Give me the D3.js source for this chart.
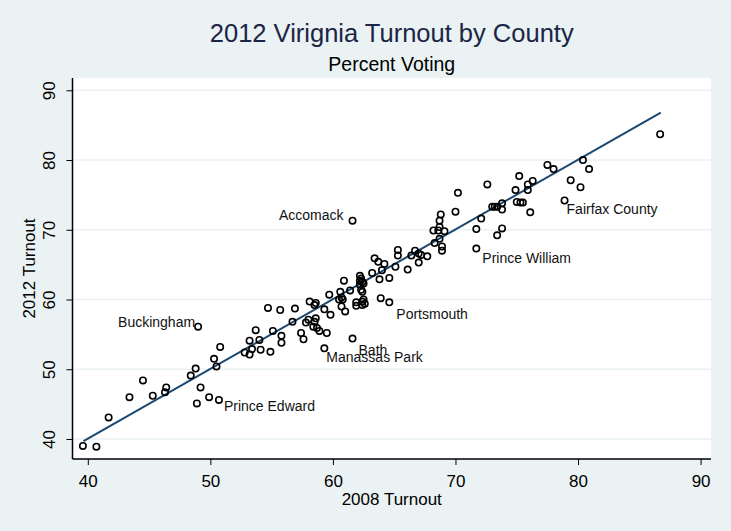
<!DOCTYPE html>
<html>
<head>
<meta charset="utf-8">
<script src="https://cdn.jsdelivr.net/npm/d3@7"></script>
<style>
  html, body { margin: 0; padding: 0; background: #eaf2f3; }
  svg { display: block; font-family: "Liberation Sans", Arial, sans-serif; }
</style>
</head>
<body>
<svg id="chart" width="731" height="531"></svg>
<script>
// ---- Data ----
const turnout2008 = [
  39.6, 40.7, 41.7, 43.4, 44.5, 45.3, 46.3, 46.4, 48.4, 48.8, 49.2, 48.9, 49.9,
  50.3, 50.5, 50.8, 52.8, 53.2, 53.4, 53.2, 54.0, 54.1, 54.9, 55.8, 55.8, 57.4,
  57.6, 59.5, 53.7, 54.7, 55.7, 55.1, 56.7, 56.9, 57.8, 58.1, 58.0, 58.5, 58.4,
  58.6, 58.7, 58.6, 58.5, 58.9, 59.3, 59.8, 59.7, 60.6, 60.7, 60.8, 60.5, 60.9,
  61.0, 60.7, 61.4, 61.9, 61.9, 62.2, 62.3, 62.2, 62.4, 62.2, 62.3, 62.4, 62.5,
  62.4, 62.6, 62.4, 62.5, 63.2, 63.4, 63.7, 64.2, 64.0, 63.8, 64.6, 63.9, 65.1,
  65.3, 65.3, 66.1, 66.4, 66.7, 67.0, 67.2, 67.0, 67.7, 68.3, 68.7, 68.9, 68.9,
  68.2, 68.6, 69.1, 68.7, 68.7, 68.8, 70.0, 70.2, 71.7, 72.1, 72.6, 73.0, 73.2,
  73.4, 73.8, 73.8, 73.8, 73.4, 74.9, 75.0, 75.3, 75.5, 75.2, 75.9, 75.9, 76.3,
  76.1, 77.5, 78.0, 79.4, 80.2, 80.4, 80.9, 86.7
];
const turnout2012 = [
  39.0, 38.9, 43.1, 46.0, 48.4, 46.2, 46.7, 47.4, 49.1, 50.1, 47.4, 45.1, 46.0,
  51.5, 50.4, 53.2, 52.4, 52.1, 52.9, 54.1, 54.2, 52.8, 52.5, 53.8, 54.8, 55.2,
  54.3, 55.2, 55.6, 58.8, 58.5, 55.5, 56.8, 58.7, 56.7, 59.7, 57.1, 56.8, 56.1,
  57.3, 55.9, 59.5, 59.2, 55.5, 58.6, 57.8, 60.7, 61.1, 60.3, 60.0, 60.0, 62.7,
  58.3, 59.0, 61.3, 59.6, 59.1, 63.4, 63.0, 62.7, 62.5, 62.1, 61.4, 61.1, 62.3,
  59.7, 59.4, 59.2, 60.0, 63.8, 65.9, 65.4, 65.1, 64.2, 62.9, 63.1, 60.2, 64.7,
  67.1, 66.3, 64.3, 66.3, 67.0, 66.6, 66.4, 65.3, 66.2, 68.1, 68.7, 67.6, 67.0,
  69.9, 69.9, 69.8, 70.4, 71.3, 72.2, 72.6, 75.3, 70.1, 71.6, 76.5, 73.3, 73.3,
  73.3, 73.8, 72.9, 70.2, 69.2, 75.7, 74.0, 73.9, 73.9, 77.7, 76.5, 75.7, 77.0,
  72.5, 79.3, 78.7, 77.1, 76.1, 80.0, 78.7, 83.7
];
// Labelled localities
const labelNames = ["Accomack", "Buckingham", "Fairfax County", "Prince William",
                    "Portsmouth", "Bath", "Manassas Park", "Prince Edward"];
const label2008 = [61.6, 49.0, 78.9, 71.7, 64.6, 61.6, 59.3, 50.7];
const label2012 = [71.3, 56.1, 74.2, 67.3, 59.6, 54.4, 53.0, 45.6];
// Linear fit (end points, data units)
const fit2008 = [39.65, 86.75];
const fit2012 = [39.7, 86.8];
// Axis ticks
const xTicks = [40, 50, 60, 70, 80, 90];
const yTicks = [40, 50, 60, 70, 80, 90];

// ---- Layout / style ----
const W = 731, H = 531;
const plot = { left: 72.5, right: 711, top: 78, bottom: 459 };
const labelPos = {
  "Accomack":       { anchor: "end",   dx: -9, dy: -6 },
  "Buckingham":     { anchor: "end",   dx: -3, dy: -5 },
  "Fairfax County": { anchor: "start", dx: 2,  dy: 9 },
  "Prince William": { anchor: "start", dx: 6,  dy: 9 },
  "Portsmouth":     { anchor: "start", dx: 7,  dy: 12 },
  "Bath":           { anchor: "start", dx: 6,  dy: 11 },
  "Manassas Park":  { anchor: "start", dx: 2,  dy: 9 },
  "Prince Edward":  { anchor: "start", dx: 5,  dy: 6 }
};

const svg = d3.select("#chart");
svg.append("rect").attr("width", W).attr("height", H).attr("fill", "#eaf2f3");

const x = d3.scaleLinear().domain([40, 90]).range([87.8, 700.6]);
const y = d3.scaleLinear().domain([40, 90]).range([439, 90.3]);

// plot region
svg.append("rect")
  .attr("x", plot.left).attr("y", plot.top)
  .attr("width", plot.right - plot.left).attr("height", plot.bottom - plot.top)
  .attr("fill", "#ffffff");

// gridlines
svg.append("g").selectAll("line").data(yTicks).join("line")
  .attr("x1", plot.left).attr("x2", plot.right)
  .attr("y1", d => y(d)).attr("y2", d => y(d))
  .attr("stroke", "#eaf2f3").attr("stroke-width", 1.5);

// fit line
svg.append("path")
  .datum(fit2008.map((v, i) => [v, fit2012[i]]))
  .attr("d", d3.line().x(d => x(d[0])).y(d => y(d[1])))
  .attr("fill", "none").attr("stroke", "#1a476f").attr("stroke-width", 2);

// points
const pts = turnout2008.map((v, i) => [v, turnout2012[i]])
  .concat(label2008.map((v, i) => [v, label2012[i]]));
svg.append("g").selectAll("circle").data(pts).join("circle")
  .attr("cx", d => x(d[0])).attr("cy", d => y(d[1])).attr("r", 3.2)
  .attr("fill", "none").attr("stroke", "#000").attr("stroke-width", 1.6);

// labels
svg.append("g").selectAll("text").data(labelNames).join("text")
  .attr("x", (d, i) => x(label2008[i]) + labelPos[d].dx)
  .attr("y", (d, i) => y(label2012[i]) + labelPos[d].dy)
  .attr("text-anchor", d => labelPos[d].anchor)
  .attr("dominant-baseline", "central")
  .attr("font-size", 14).attr("fill", "#111")
  .text(d => d);

// axes
const xAxis = d3.axisBottom(x).tickValues(xTicks).tickSize(6).tickSizeOuter(0).tickPadding(10);
const gx = svg.append("g").attr("transform", `translate(0,${plot.bottom})`).call(xAxis);
gx.select(".domain").remove();
gx.selectAll("text").attr("font-size", 17).attr("fill", "#000").attr("font-family", "Liberation Sans, Arial, sans-serif");
gx.selectAll("line").attr("stroke", "#000");

const yAxis = d3.axisLeft(y).tickValues(yTicks).tickSize(6).tickSizeOuter(0);
const gy = svg.append("g").attr("transform", `translate(${plot.left},0)`).call(yAxis);
gy.select(".domain").remove();
gy.selectAll("line").attr("stroke", "#000");
gy.selectAll("text")
  .attr("font-size", 17).attr("fill", "#000").attr("font-family", "Liberation Sans, Arial, sans-serif")
  .attr("x", null).attr("dy", null)
  .attr("transform", "translate(-18,0) rotate(-90)")
  .attr("text-anchor", "middle");

// axis lines
svg.append("line").attr("x1", plot.left).attr("x2", plot.right)
  .attr("y1", plot.bottom).attr("y2", plot.bottom).attr("stroke", "#000").attr("stroke-width", 1.5);
svg.append("line").attr("x1", plot.left).attr("x2", plot.left)
  .attr("y1", plot.top).attr("y2", plot.bottom).attr("stroke", "#000").attr("stroke-width", 1.5);

// titles
const cx = (plot.left + plot.right) / 2;
svg.append("text").attr("x", cx).attr("y", 42).attr("text-anchor", "middle")
  .attr("font-size", 25.5).attr("fill", "#1c2545").text("2012 Virignia Turnout by County");
svg.append("text").attr("x", cx).attr("y", 71).attr("text-anchor", "middle")
  .attr("font-size", 19.5).attr("fill", "#000").text("Percent Voting");
svg.append("text").attr("x", cx).attr("y", 505).attr("text-anchor", "middle")
  .attr("font-size", 17).attr("fill", "#000").text("2008 Turnout");
svg.append("text")
  .attr("transform", `translate(35,${(plot.top + plot.bottom) / 2}) rotate(-90)`)
  .attr("text-anchor", "middle")
  .attr("font-size", 17).attr("fill", "#000").text("2012 Turnout");
</script>
</body>
</html>
